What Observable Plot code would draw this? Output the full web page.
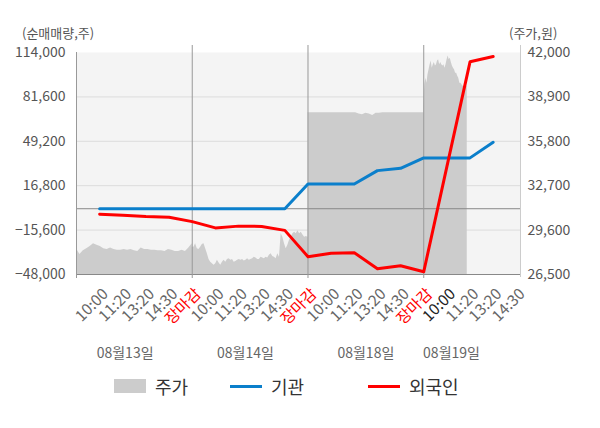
<!DOCTYPE html>
<html>
<head>
<meta charset="utf-8">
<script src="https://cdn.jsdelivr.net/npm/d3@7"></script>
<script src="https://cdn.jsdelivr.net/npm/@observablehq/plot@0.6"></script>
<style>
  body { margin: 0; background: #fff; }
  #chart { position: relative; width: 600px; height: 428px; background: #fff;
    font-family: "Noto Sans CJK KR", "Noto Sans", sans-serif; }
  #chart svg { position: absolute; left: 0; top: 0; overflow: visible; }
  .unit { position: absolute; top: 23px; font-size: 13px; color: #555; line-height: 20px; white-space: nowrap; }
  .legend { position: absolute; top: 372px; left: 0; width: 600px; height: 28px; font-size: 18px; color: #333; }
  .legend .item { position: absolute; top: 0; height: 28px; display: flex; align-items: center; white-space: nowrap; }
  .legend .sw { display: inline-block; margin-right: 9px; }
</style>
</head>
<body>
<div id="chart"></div>
<script>
// ---- data ----
const slotLabels = ["10:00","11:20","13:20","14:30","장마감",
                    "10:00","11:20","13:20","14:30","장마감",
                    "10:00","11:20","13:20","14:30","장마감",
                    "10:00","11:20","13:20","14:30"];
const dayLabels = ["08월13일","08월14일","08월18일","08월19일"];
const dayLabelSlots = [2.1, 7.3, 12.5, 16.2];

// net buying (shares), one value per slot 1..18
const flowSlots   = [1,2,3,4,5,6,7,8,9,10,11,12,13,14,15,16,17,18];
const institution = [0,0,0,0,0,0,0,0,0,18000,18000,18000,27800,29500,37100,37100,37100,48500];
const foreign     = [-4000,-4700,-5700,-6200,-9400,-14000,-12700,-12900,-15800,-35000,-32500,-32100,-43800,-41600,-46000,30700,107200,111100];

// intraday price (won), per trading day
const priceDay1 = [28300,27900,28150,28300,28450,28650,28550,28450,28300,28250,28350,28250,28200,28200,28250,28200,28250,28150,28100,28350,28250,28250,28200,28200,28150,28150,28100,28250,28200,28100,28100,28200,28100,28350,28650];
const priceDay2 = [28400,28400,28650,28300,28250,28400,28600,28650,28300,27950,27550,27350,27250,27150,27250,27500,27300,27150,27350,27500,27350,27550,27600,27500,27550,27350,27400,27500,27550,27500,27550,27450,27500,27600,27500,27550,27600,27700,27650,27550,27550,27700,27650,27600,27700,27650,27850,27950,27750,27700,27600,27950,27700,29350,29100,28650,28300,28550,28900,29100,29350,29450,29350,29550,29350,29450,29250,29100,29150,29100];
const priceDay3 = [37800,37800,37800,37800,37800,37800,37800,37800,37800,37800,37800,37800,37800,37800,37800,37700,37650,37750,37700,37600,37750,37750,37800,37800,37800,37800,37800,37800,37800,37800,37800,37800,37800,37800,37800];
const priceDay4 = [38250,39750,40200,39850,40450,40800,41150,41400,40900,41150,41300,41050,41150,41400,41500,41150,41300,41150,41050,41150,40900,41150,41500,41750,41500,41600,41300,41050,40900,40800,40550,40550,40350,40200,39850,39850,39750,39650,39650,39650,39650,39650];
const lastTradeSlot = 16.88;

const volTicks   = [-48000,-15600,16800,49200,81600,114000];
const priceTicks = [26500,29600,32700,35800,38900,42000];

// ---- build ----
const vMin = volTicks[0], vMax = volTicks[volTicks.length-1];
const pMin = priceTicks[0], pMax = priceTicks[priceTicks.length-1];
const toVol = p => vMin + (p - pMin) / (pMax - pMin) * (vMax - vMin);
const xEnd = 19.18;

const days = [
  {vals: priceDay1, s: 0,  e: 5},
  {vals: priceDay2, s: 5,  e: 10},
  {vals: priceDay3, s: 10, e: 15},
  {vals: priceDay4, s: 15, e: lastTradeSlot}
];
const priceRows = [];
days.forEach(d => d.vals.forEach((p, i) => priceRows.push({u: d.s + (d.e - d.s) * i / (d.vals.length - 1), v: toVol(p)})));

const instRows = flowSlots.map((u, i) => ({u, v: institution[i]}));
const forRows  = flowSlots.map((u, i) => ({u, v: foreign[i]}));
const tickRows = slotLabels.map((label, i) => ({
  u: i + 1, label,
  color: label === "장마감" ? "#ff0000" : (i === 15 ? "#222" : "#666")
}));
const dayRows = dayLabels.map((label, i) => ({u: dayLabelSlots[i], label}));
const gridVals = volTicks.slice(1, -1);
const fmt = d3.format(",");

const plot = Plot.plot({
  width: 600, height: 370,
  marginLeft: 76, marginRight: 80, marginTop: 52, marginBottom: 96,
  x: {domain: [0, xEnd], axis: null},
  y: {domain: [vMin, vMax], axis: null},
  style: {fontFamily: '"Noto Sans CJK KR", "Noto Sans", sans-serif', fontSize: "14px", background: "transparent", overflow: "visible"},
  marks: [
    Plot.frame({fill: "#f4f4f4", stroke: null}),
    Plot.ruleY(gridVals, {stroke: "#dcdcdc", strokeWidth: 1}),
    Plot.areaY(priceRows, {x: "u", y1: vMin, y2: "v", fill: "#cccccc"}),
    Plot.ruleY([0], {stroke: "#888"}),
    Plot.ruleY([vMin], {stroke: "#888"}),
    Plot.ruleX([5, 10, 15], {stroke: "#999", insetTop: -7, insetBottom: -4}),
    Plot.ruleX([0], {stroke: "#999", insetBottom: -4}),
    Plot.ruleX([xEnd], {stroke: "#ccc", insetTop: -7, insetBottom: -3}),
    Plot.line(instRows, {x: "u", y: "v", stroke: "#0b7fcb", strokeWidth: 3}),
    Plot.line(forRows, {x: "u", y: "v", stroke: "#ff0000", strokeWidth: 3}),
    Plot.axisY(volTicks, {anchor: "left", tickSize: 0, tickPadding: 11, tickFormat: fmt, color: "#555", fontSize: 14, label: null}),
    Plot.axisY(volTicks, {anchor: "right", tickSize: 0, tickPadding: 7,
      tickFormat: d => fmt(Math.round((pMin + (d - vMin) / (vMax - vMin) * (pMax - pMin)) / 100) * 100),
      color: "#555", fontSize: 14, label: null}),
    Plot.text(tickRows, {x: "u", y: vMin, text: "label", rotate: -45, textAnchor: "end", lineAnchor: "middle", dx: 6, dy: 17, fill: "color", fontSize: 15.5}),
    Plot.text(dayRows, {x: "u", y: vMin, text: "label", dy: 79, fill: "#666", fontSize: 14})
  ]
});

const chart = document.getElementById("chart");
chart.appendChild(plot);

const u1 = document.createElement("div"); u1.className = "unit"; u1.style.left = "22px"; u1.textContent = "(순매매량,주)"; chart.appendChild(u1);
const u2 = document.createElement("div"); u2.className = "unit"; u2.style.left = "509px"; u2.textContent = "(주가,원)"; chart.appendChild(u2);

const legend = document.createElement("div");
legend.className = "legend";
legend.innerHTML =
  '<div class="item" style="left:114px"><span class="sw" style="width:32px;height:14px;background:#cccccc"></span>주가</div>' +
  '<div class="item" style="left:230px"><span class="sw" style="width:32px;height:3px;background:#0b7fcb"></span>기관</div>' +
  '<div class="item" style="left:368px"><span class="sw" style="width:32px;height:3px;background:#ff0000"></span>외국인</div>';
chart.appendChild(legend);
</script>
</body>
</html>
